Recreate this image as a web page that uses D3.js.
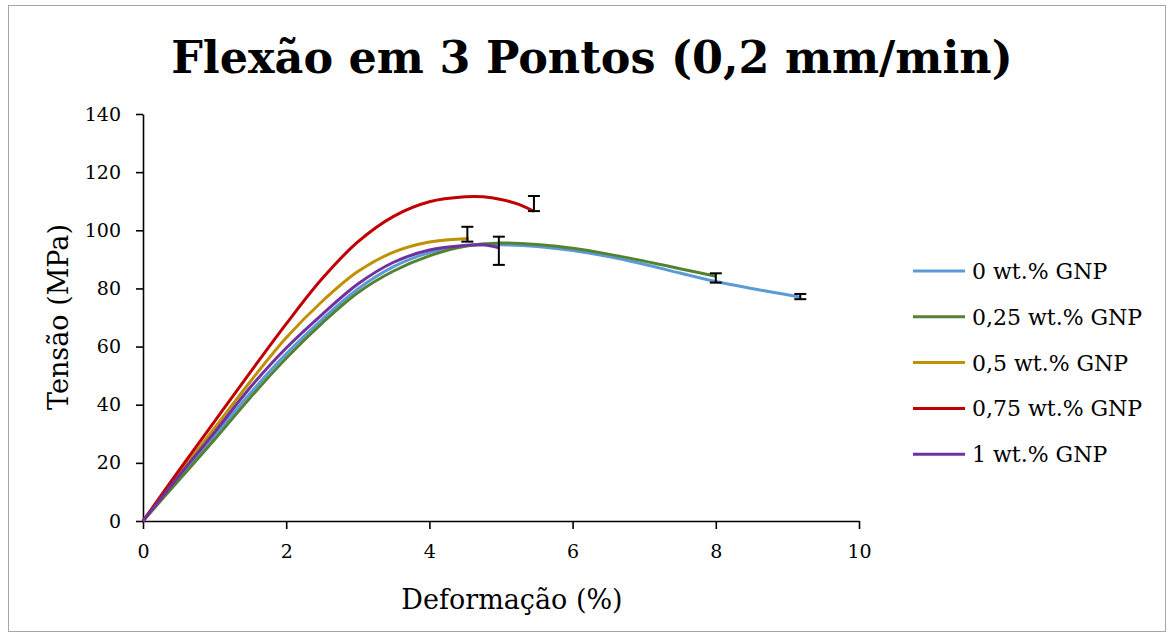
<!DOCTYPE html>
<html>
<head>
<meta charset="utf-8">
<script src="https://cdn.jsdelivr.net/npm/d3@7"></script>
<style>
  body { margin: 0; background: #fff; }
  .axis path, .axis line { stroke: #000; stroke-width: 1.6; }
  .axis text { font-family: "DejaVu Serif", serif; font-size: 19px; fill: #000; }
</style>
</head>
<body>
<div class="container"></div>
<script>
// data: deformation (%) and stress (MPa) for each series
var seriesNames = ['0 wt.% GNP', '0,25 wt.% GNP', '0,5 wt.% GNP', '0,75 wt.% GNP', '1 wt.% GNP'];
var seriesColors = ['#5B9BD5', '#548235', '#BF9000', '#C00000', '#7030A0'];

var deformacao0 = [0, 0.5, 1.0, 1.5, 2.0, 2.5, 3.0, 3.5, 4.0, 4.5, 5.0, 5.5, 6.0, 6.5, 7.0, 7.5, 8.0, 8.5, 9.0, 9.18];
var tensao0 = [0, 14.7, 29.3, 44, 57.5, 69.3, 79.8, 87.5, 92.3, 94.7, 95, 94.4, 93, 91, 88.3, 85.3, 82.4, 80, 77.8, 77];

var deformacao025 = [0, 0.5, 1.0, 1.5, 2.0, 2.5, 3.0, 3.5, 4.0, 4.5, 5.0, 5.5, 6.0, 6.5, 7.0, 7.5, 8.0];
var tensao025 = [0, 14, 28, 42.5, 56, 68, 78.5, 86, 91.2, 94.5, 95.6, 95.1, 93.8, 91.8, 89.4, 86.8, 84.2];

var deformacao05 = [0, 0.5, 1.0, 1.5, 2.0, 2.5, 3.0, 3.5, 4.0, 4.55];
var tensao05 = [0, 16, 32, 48, 63, 75.5, 85.8, 92.5, 96, 97.2];

var deformacao075 = [0, 0.5, 1.0, 1.5, 2.0, 2.5, 3.0, 3.5, 4.0, 4.5, 4.75, 5.0, 5.25, 5.46];
var tensao075 = [0, 17.3, 34.3, 51.2, 67.8, 83.3, 96, 104.8, 109.8, 111.5, 111.5, 110.6, 108.9, 106.5];

var deformacao1 = [0, 0.5, 1.0, 1.5, 2.0, 2.5, 3.0, 3.5, 4.0, 4.5, 4.75, 4.97];
var tensao1 = [0, 15.5, 30.5, 46, 59.5, 71, 81.5, 89, 93.2, 94.8, 95, 94];

// error bars, one per series (same order as seriesNames)
var errorX = [9.18, 8.0, 4.53, 5.46, 4.97];
var errorLow = [76.3, 82, 96.1, 106.6, 88.1];
var errorHigh = [78.1, 85.2, 101.2, 111.8, 97.8];

var xTicks = [0, 2, 4, 6, 8, 10];
var yTicks = [0, 20, 40, 60, 80, 100, 120, 140];

const WIDTH = 1174;
const HEIGHT = 637;
const PLOT_LEFT = 143;
const PLOT_RIGHT = 859;
const PLOT_TOP = 114;
const PLOT_BOTTOM = 521;

var translate = function (x, y) {
  return "translate(" + x + "," + y + ")";
};

var onload = function () {
  var allX = [deformacao0, deformacao025, deformacao05, deformacao075, deformacao1];
  var allY = [tensao0, tensao025, tensao05, tensao075, tensao1];

  var svg = d3.select('.container').append('svg')
    .attr('width', WIDTH)
    .attr('height', HEIGHT);

  svg.append('rect')
    .attr('x', 8.5).attr('y', 5.5)
    .attr('width', 1157).attr('height', 626)
    .attr('fill', '#fff')
    .attr('stroke', '#a6a6a6')
    .attr('stroke-width', 1);

  var xScale = d3.scaleLinear().domain([0, 10]).range([PLOT_LEFT, PLOT_RIGHT]);
  var yScale = d3.scaleLinear().domain([0, 140]).range([PLOT_BOTTOM, PLOT_TOP]);

  var xAxis = d3.axisBottom(xScale).tickValues(xTicks).tickSize(8).tickSizeOuter(0);
  var yAxis = d3.axisLeft(yScale).tickValues(yTicks).tickSize(7).tickSizeOuter(0).tickPadding(15);

  svg.append('g')
    .attr('class', 'axis')
    .attr('transform', translate(0, PLOT_BOTTOM))
    .call(xAxis)
    .selectAll('text')
    .attr('y', 37)
    .attr('dy', 0);

  svg.append('g')
    .attr('class', 'axis')
    .attr('transform', translate(PLOT_LEFT, 0))
    .call(yAxis);

  var line = d3.line()
    .x(function (d) { return xScale(d[0]); })
    .y(function (d) { return yScale(d[1]); })
    .curve(d3.curveCatmullRom.alpha(0.5));

  allX.forEach(function (xs, i) {
    var pts = xs.map(function (x, j) { return [x, allY[i][j]]; });
    svg.append('path')
      .attr('d', line(pts))
      .attr('fill', 'none')
      .attr('stroke', seriesColors[i])
      .attr('stroke-width', 3)
      .attr('stroke-linejoin', 'round');
  });

  // error bars
  var eb = svg.append('g').attr('stroke', '#000').attr('stroke-width', 2);
  errorX.forEach(function (x, i) {
    var px = xScale(x);
    eb.append('line').attr('x1', px).attr('x2', px)
      .attr('y1', yScale(errorLow[i])).attr('y2', yScale(errorHigh[i]));
    [errorLow[i], errorHigh[i]].forEach(function (v) {
      eb.append('line').attr('x1', px - 6).attr('x2', px + 6)
        .attr('y1', yScale(v)).attr('y2', yScale(v));
    });
  });

  // title
  svg.append('text')
    .attr('x', 592).attr('y', 73)
    .attr('text-anchor', 'middle')
    .style('font-family', '"DejaVu Serif", serif')
    .style('font-weight', 'bold')
    .style('font-size', '44.5px')
    .text('Flexão em 3 Pontos (0,2 mm/min)');

  svg.append('text')
    .attr('x', 512).attr('y', 609)
    .attr('text-anchor', 'middle')
    .style('font-family', '"DejaVu Serif", serif')
    .style('font-size', '27px')
    .text('Deformação (%)');

  svg.append('text')
    .attr('transform', translate(68, 317) + ' rotate(-90)')
    .attr('text-anchor', 'middle')
    .style('font-family', '"DejaVu Serif", serif')
    .style('font-size', '27px')
    .text('Tensão (MPa)');

  // legend
  var legend = svg.append('g').attr('transform', translate(913, 271));
  seriesNames.forEach(function (name, i) {
    var g = legend.append('g').attr('transform', translate(0, i * 45.8));
    g.append('line')
      .attr('x1', 0).attr('x2', 52)
      .attr('stroke', seriesColors[i])
      .attr('stroke-width', 3);
    g.append('text')
      .attr('x', 59).attr('y', 8)
      .style('font-family', '"DejaVu Serif", serif')
      .style('font-size', '22px')
      .text(name);
  });
};

window.onload = onload;
</script>
</body>
</html>
